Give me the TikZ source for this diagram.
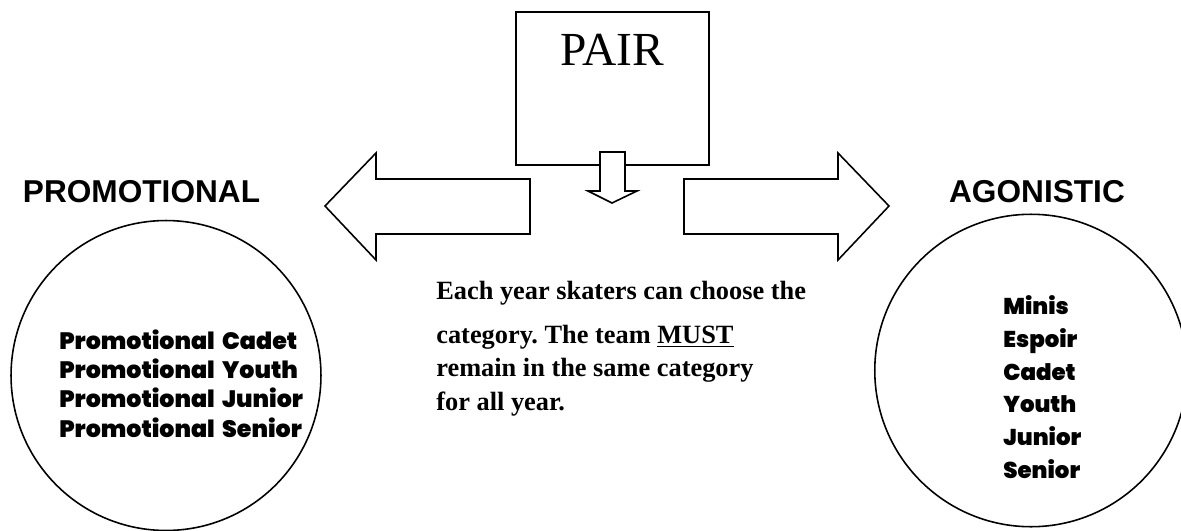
\documentclass[tikz,border=0pt]{standalone}
\usepackage{fontspec}
\setmainfont{Liberation Serif}
\newfontfamily\headfont{Liberation Sans}
\newfontfamily\heavyfont{Poppins Black}[WordSpace=1.8]
\usetikzlibrary{positioning}

\tikzset{
    outline/.style={draw, line width=0.9pt},
    blockarrow/.style={outline, fill=white, line join=miter},
    heading/.style={font=\headfont\bfseries\fontsize{18}{20}\selectfont, inner sep=0pt},
    listing/.style={font=\heavyfont\fontsize{13.5}{16.7}\selectfont, align=left, inner sep=0pt},
}

\begin{document}
\frenchspacing
\begin{tikzpicture}[x=0.02cm, y=-0.02cm]
    \useasboundingbox (0,0) rectangle (1181,531);

    % top box
    \node[outline, minimum width=3.86cm, minimum height=3.06cm] (pair) at (612.5,88.5) {};
    \node[font=\fontsize{27}{30}\selectfont, inner sep=0pt, anchor=base]
        (pairname) at ([yshift=-1.08cm]pair.north) {PAIR};

    % block arrows
    \draw[blockarrow] (600,152) -- (625,152) -- (625,191) -- (637,191)
        -- (612,203) -- (588,191) -- (600,191) -- cycle;
    \draw[blockarrow] (325,206) -- (376,153) -- (376,179) -- (530,179)
        -- (530,234) -- (376,234) -- (376,260) -- cycle;
    \draw[blockarrow] (889,206) -- (838,153) -- (838,179) -- (684,179)
        -- (684,234) -- (838,234) -- (838,260) -- cycle;

    % left branch
    \node[heading, anchor=base] (promohead) at (141.5,202) {PROMOTIONAL};
    \node[outline, circle, minimum size=6.2cm] (promo) at (166,375.5) {};
    \node[listing, anchor=north west] (promolist) at (59,329) {%
        Promotional Cadet\\ Promotional Youth\\
        Promotional Junior\\ Promotional Senior};

    % right branch
    \node[heading, anchor=base] (agonhead) at (1037,202) {AGONISTIC};
    \node[outline, circle, minimum size=6.25cm] (agon) at (1031,370.5) {};
    \node[listing, font=\heavyfont\fontsize{13}{18.7}\selectfont, anchor=north west]
        (agonlist) at (1003,295) {Minis\\ Espoir\\ Cadet\\ Youth\\ Junior\\ Senior};

    % note in the middle
    \node[font=\bfseries\fontsize{15}{19}\selectfont, align=left, inner sep=0pt,
        anchor=north west] (note) at (436,281) {%
        Each year skaters can choose the\\[6pt]
        category. The team \underline{MUST}\\
        remain in the same category\\
        for all year.};
\end{tikzpicture}
\end{document}
